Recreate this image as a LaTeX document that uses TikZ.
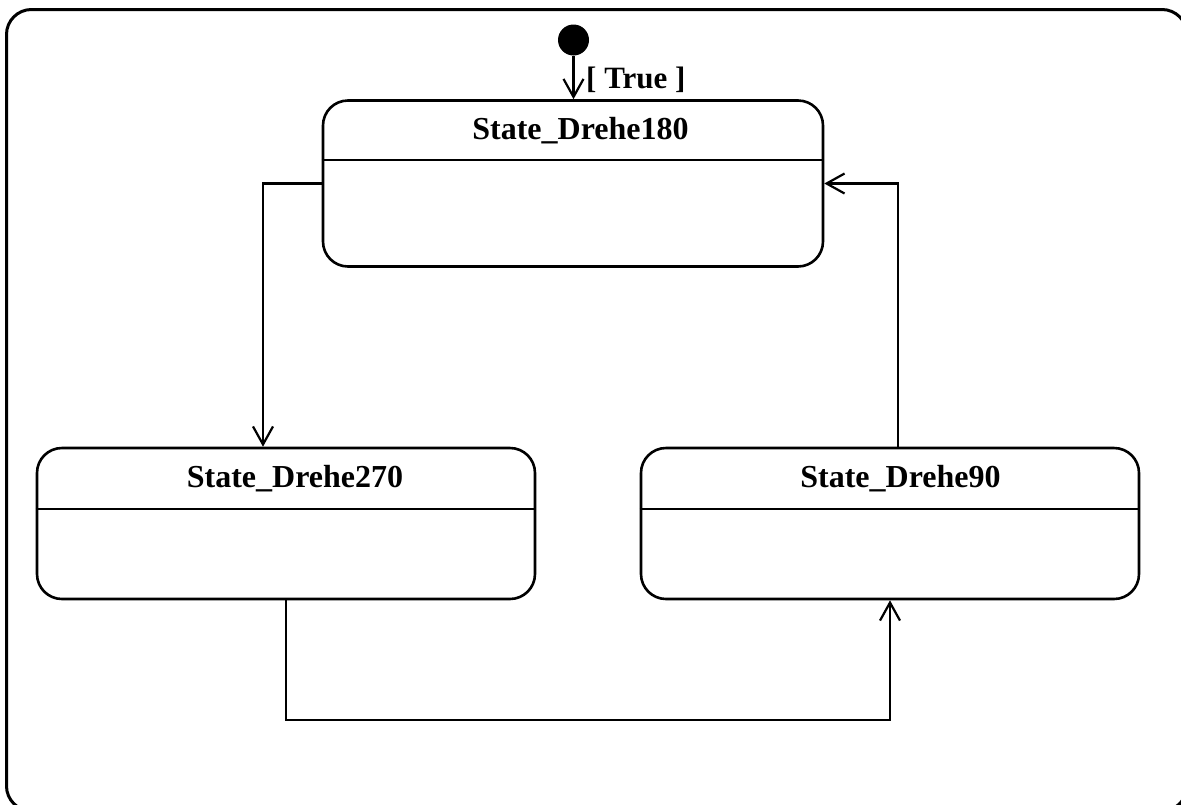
\documentclass[tikz,border=0pt]{standalone}
\usepackage{fontspec}
\setmainfont{Liberation Serif}
\usetikzlibrary{arrows.meta}
\begin{document}
\begin{tikzpicture}[x=1pt,y=-1pt,
  statebox/.style={draw=black, line width=2.6pt, rounded corners=25pt, inner sep=0pt, fill=white},
  divider/.style={line width=2.4pt},
  edge/.style={line width=2.2pt, -{Straight Barb[length=18pt,width=20pt,line width=2.2pt]}},
  lbl/.style={font=\fontsize{32}{34}\selectfont\bfseries, anchor=base, inner sep=0pt},
  guard/.style={font=\fontsize{31}{33}\selectfont\bfseries, anchor=base west, inner sep=0pt}]
\useasboundingbox (0,0) rectangle (1181,804);
% frame
\draw[line width=3pt, rounded corners=25pt] (6.5,9.5) rectangle (1187,811);
% states
\node[statebox, minimum width=500pt, minimum height=166pt] (s180) at (573,183.5) {};
\node[statebox, minimum width=498pt, minimum height=151pt] (s270) at (286,523.5) {};
\node[statebox, minimum width=498pt, minimum height=151pt] (s90) at (890,523.5) {};
\draw[divider] (s180.west |- 0,160) -- (s180.east |- 0,160);
\draw[divider] (s270.west |- 0,509) -- (s270.east |- 0,509);
\draw[divider] (s90.west |- 0,509) -- (s90.east |- 0,509);
\node[lbl] (t180) at (580.5,139) {State\_Drehe180};
\node[lbl] (t270) at (295,487) {State\_Drehe270};
\node[lbl] (t90) at (900.5,487) {State\_Drehe90};
% initial
\node[circle, fill=black, minimum size=31pt, inner sep=0pt] (init) at (573.5,40) {};
\draw[edge] (init.south) -- (init.south |- s180.north);
\node[guard] (grd) at (586,88) {[ True ]};
% transitions
\draw[edge] (s180.west) -| ([xshift=-23pt]s270.north);
\draw[edge] (s270.south) -- ++(0,120) -| (s90.south);
\draw[edge] ([xshift=8pt]s90.north) |- (s180.east);
\end{tikzpicture}
\end{document}
